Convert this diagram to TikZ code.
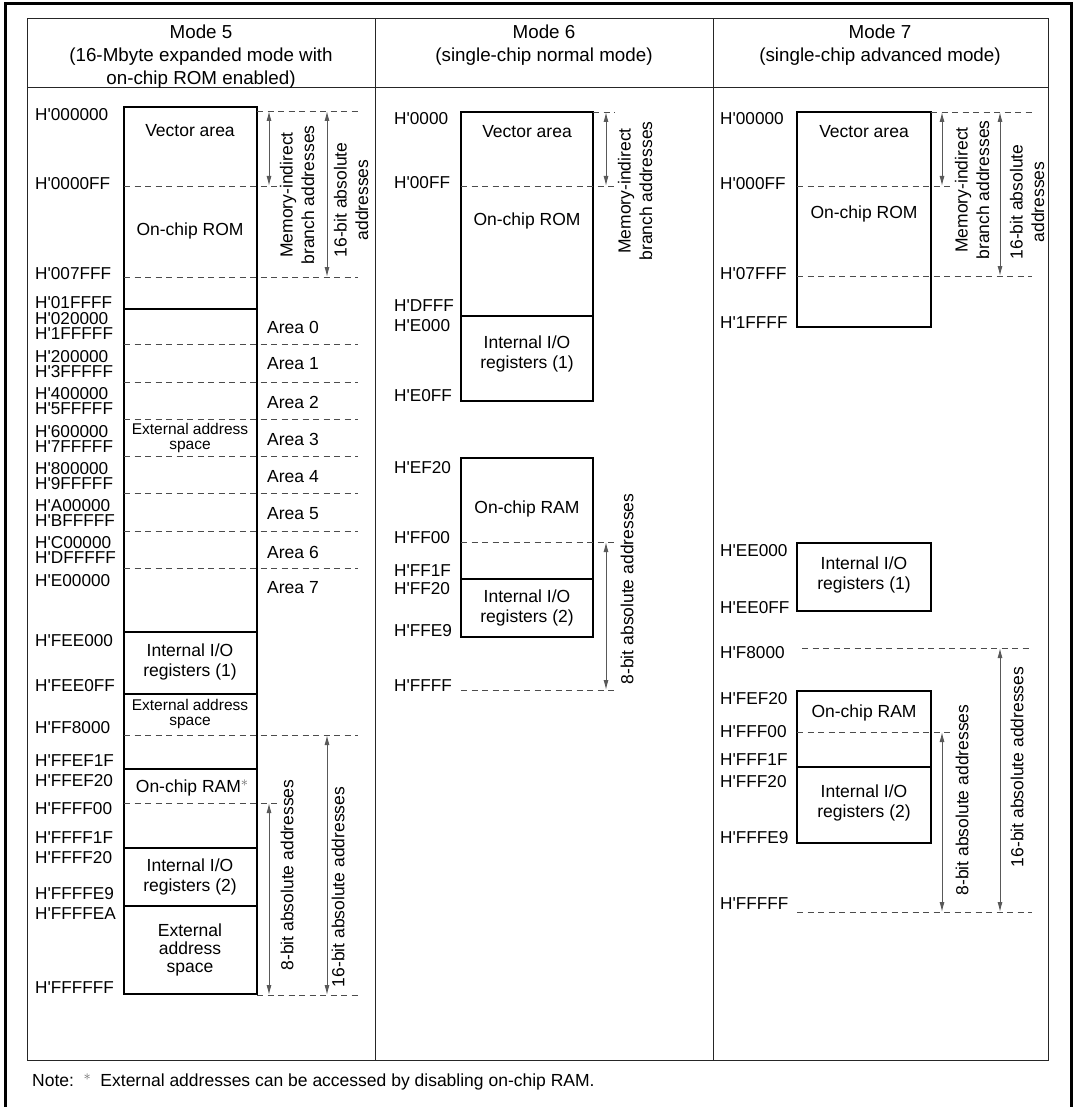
\documentclass[tikz,border=0pt]{standalone}
\usepackage{fontspec}
\setmainfont{Liberation Sans}
\usepackage{tikz}
\usetikzlibrary{arrows.meta}
\newcommand{\hx}[1]{H\textquotesingle#1}
\newcommand{\nstar}{\raisebox{6pt}{\color{black!60}\fontsize{15}{15}\selectfont$\ast$}}

\begin{document}
\begin{tikzpicture}
  [
    x=1pt, y=-1pt,
    Addr/.style={anchor=west, inner sep=0pt, text height=12.5pt, text depth=0pt, font=\fontsize{17.2}{21}\selectfont},
    Lbl/.style={align=center, inner sep=0pt, font=\fontsize{17.5}{20}\selectfont},
    Sml/.style={align=center, inner sep=0pt, font=\fontsize{15.5}{15}\selectfont},
    Head/.style={align=center, inner sep=0pt, font=\fontsize{18.8}{23}\selectfont},
    Rot/.style={rotate=90, align=center, inner sep=0pt, font=\fontsize{17.5}{21.5}\selectfont},
    Cell/.style={draw=black!85, line width=1pt},
    Mem/.style={draw=black, line width=1.1pt},
    Dash/.style={draw=black!70, dash pattern=on 6pt off 4.5pt, line width=0.9pt},
    Dim/.style={draw=black!65, line width=1pt, {Latex[length=10pt,width=5pt]}-{Latex[length=10pt,width=5pt]}}
  ]
  \useasboundingbox (0,0) rectangle (1075,1107);
  % Frame and table
  \draw[line width=3pt] (5,1107) -- (5,4) -- (1071,4) -- (1071,1107);
  \draw[Cell] (27,19) rectangle (1048,1060);
  \draw[Cell] (27,88) -- (1048,88);
  \draw[Cell] (375,19) -- (375,1060);
  \draw[Cell] (713,19) -- (713,1060);
  \node[Head] (h5) at (201,57) {Mode 5\\(16-Mbyte expanded mode with\\on-chip ROM enabled)};
  \node[Head] (h6) at (544,45) {Mode 6\\(single-chip normal mode)};
  \node[Head] (h7) at (880,45) {Mode 7\\(single-chip advanced mode)};

  % Mode 5: lines
  \draw[Mem] (124,107) rectangle (257,994);
  \draw[Mem] (124,309) -- (257,309);
  \draw[Mem] (124,632) -- (257,632);
  \draw[Mem] (124,694) -- (257,694);
  \draw[Mem] (124,769) -- (257,769);
  \draw[Mem] (124,848) -- (257,848);
  \draw[Mem] (124,906) -- (257,906);
  \draw[Dash] (257,111) -- (358,111);
  \draw[Dash] (124,186) -- (278,186);
  \draw[Dash] (124,277) -- (358,277);
  \draw[Dash] (124,344) -- (358,344);
  \draw[Dash] (124,382) -- (358,382);
  \draw[Dash] (124,419) -- (358,419);
  \draw[Dash] (124,456) -- (358,456);
  \draw[Dash] (124,493) -- (358,493);
  \draw[Dash] (124,531) -- (358,531);
  \draw[Dash] (124,568) -- (358,568);
  \draw[Dash] (124,735) -- (358,735);
  \draw[Dash] (124,803) -- (278,803);
  \draw[Dash] (257,995) -- (358,995);
  \path[Dim] (269,111) -- (269,186);
  \path[Dim] (327,111) -- (327,277);
  \path[Dim] (269,803) -- (269,995);
  \path[Dim] (327,735) -- (327,995);
  % Mode 5: addresses
  \node[Addr] (a5a) at (35,114) {\hx{000000}};
  \node[Addr] (a5b) at (35,183) {\hx{0000FF}};
  \node[Addr] (a5c) at (35,273) {\hx{007FFF}};
  \node[Addr] (a5d) at (35,302) {\hx{01FFFF}};
  \node[Addr] (a5e) at (35,318) {\hx{020000}};
  \node[Addr] (a5f) at (35,333) {\hx{1FFFFF}};
  \node[Addr] (a5g) at (35,356) {\hx{200000}};
  \node[Addr] (a5h) at (35,371) {\hx{3FFFFF}};
  \node[Addr] (a5i) at (35,393) {\hx{400000}};
  \node[Addr] (a5j) at (35,408) {\hx{5FFFFF}};
  \node[Addr] (a5k) at (35,431) {\hx{600000}};
  \node[Addr] (a5l) at (35,446) {\hx{7FFFFF}};
  \node[Addr] (a5m) at (35,468) {\hx{800000}};
  \node[Addr] (a5n) at (35,483) {\hx{9FFFFF}};
  \node[Addr] (a5o) at (35,505) {\hx{A00000}};
  \node[Addr] (a5p) at (35,520) {\hx{BFFFFF}};
  \node[Addr] (a5q) at (35,542) {\hx{C00000}};
  \node[Addr] (a5r) at (35,557) {\hx{DFFFFF}};
  \node[Addr] (a5s) at (35,580) {\hx{E00000}};
  \node[Addr] (a5t) at (35,640) {\hx{FEE000}};
  \node[Addr] (a5u) at (35,685) {\hx{FEE0FF}};
  \node[Addr] (a5v) at (35,727) {\hx{FF8000}};
  \node[Addr] (a5w) at (35,760) {\hx{FFEF1F}};
  \node[Addr] (a5x) at (35,780) {\hx{FFEF20}};
  \node[Addr] (a5y) at (35,808) {\hx{FFFF00}};
  \node[Addr] (a5z) at (35,837) {\hx{FFFF1F}};
  \node[Addr] (a5aa) at (35,857) {\hx{FFFF20}};
  \node[Addr] (a5ab) at (35,893) {\hx{FFFFE9}};
  \node[Addr] (a5ac) at (35,913) {\hx{FFFFEA}};
  \node[Addr] (a5ad) at (35,987) {\hx{FFFFFF}};
  % Mode 5: areas
  \node[Lbl] (m5vec) at (190,131) {Vector area};
  \node[Lbl] (m5rom) at (190,231) {On-chip ROM};
  \node[Sml] (m5ext1) at (190,438) {External address\\space};
  \node[Lbl] (m5io1) at (190,662) {Internal I/O\\registers (1)};
  \node[Sml] (m5ext2) at (190,714) {External address\\space};
  \node[Lbl] (m5ram) at (192,788) {On-chip RAM\nstar};
  \node[Lbl] (m5io2) at (190,877) {Internal I/O\\registers (2)};
  \node[Lbl, font=\fontsize{17.5}{18}\selectfont] (m5ext3) at (190,950) {External\\address\\space};
  \node[Lbl, anchor=west] (ar0) at (267,327) {Area 0};
  \node[Lbl, anchor=west] (ar1) at (267,364) {Area 1};
  \node[Lbl, anchor=west] (ar2) at (267,402) {Area 2};
  \node[Lbl, anchor=west] (ar3) at (267,439) {Area 3};
  \node[Lbl, anchor=west] (ar4) at (267,477) {Area 4};
  \node[Lbl, anchor=west] (ar5) at (267,514) {Area 5};
  \node[Lbl, anchor=west] (ar6) at (267,552) {Area 6};
  \node[Lbl, anchor=west] (ar7) at (267,588) {Area 7};
  \node[Rot] (m5mib) at (297,195) {Memory-indirect\\branch addresses};
  \node[Rot] (m5abs) at (351,200) {16-bit absolute\\addresses};
  \node[Rot] (m5b8) at (287,875) {8-bit absolute addresses};
  \node[Rot] (m5b16) at (338,887) {16-bit absolute addresses};

  % Mode 6: lines
  \draw[Mem] (461,112) rectangle (593,401);
  \draw[Mem] (461,316) -- (593,316);
  \draw[Mem] (461,458) rectangle (593,637);
  \draw[Mem] (461,579) -- (593,579);
  \draw[Dash] (593,112) -- (615,112);
  \draw[Dash] (461,186) -- (615,186);
  \draw[Dash] (461,542) -- (618,542);
  \draw[Dash] (461,690) -- (618,690);
  \path[Dim] (606,112) -- (606,186);
  \path[Dim] (606,542) -- (606,690);
  % Mode 6: addresses
  \node[Addr] (a6a) at (394,118) {\hx{0000}};
  \node[Addr] (a6b) at (394,182) {\hx{00FF}};
  \node[Addr] (a6c) at (394,305) {\hx{DFFF}};
  \node[Addr] (a6d) at (394,325) {\hx{E000}};
  \node[Addr] (a6e) at (394,395) {\hx{E0FF}};
  \node[Addr] (a6f) at (394,467) {\hx{EF20}};
  \node[Addr] (a6g) at (394,537) {\hx{FF00}};
  \node[Addr] (a6h) at (394,570) {\hx{FF1F}};
  \node[Addr] (a6i) at (394,588) {\hx{FF20}};
  \node[Addr] (a6j) at (394,630) {\hx{FFE9}};
  \node[Addr] (a6k) at (394,685) {\hx{FFFF}};
  % Mode 6: areas
  \node[Lbl] (m6vec) at (527,132) {Vector area};
  \node[Lbl] (m6rom) at (527,221) {On-chip ROM};
  \node[Lbl] (m6io1) at (527,354) {Internal I/O\\registers (1)};
  \node[Lbl] (m6ram) at (527,509) {On-chip RAM};
  \node[Lbl] (m6io2) at (527,608) {Internal I/O\\registers (2)};
  \node[Rot] (m6mib) at (635,191) {Memory-indirect\\branch addresses};
  \node[Rot] (m6b8) at (627,589) {8-bit absolute addresses};

  % Mode 7: lines
  \draw[Mem] (797,112) rectangle (931,327);
  \draw[Mem] (797,543) rectangle (931,611);
  \draw[Mem] (797,691) rectangle (931,843);
  \draw[Mem] (797,767) -- (931,767);
  \draw[Dash] (931,112) -- (1032,112);
  \draw[Dash] (797,186) -- (950,186);
  \draw[Dash] (797,276) -- (1032,276);
  \draw[Dash] (802,648) -- (1032,648);
  \draw[Dash] (797,732) -- (952,732);
  \draw[Dash] (797,912) -- (1032,912);
  \path[Dim] (942,112) -- (942,186);
  \path[Dim] (1000,112) -- (1000,276);
  \path[Dim] (942,732) -- (942,912);
  \path[Dim] (1000,648) -- (1000,912);
  % Mode 7: addresses
  \node[Addr] (a7a) at (720,118) {\hx{00000}};
  \node[Addr] (a7b) at (720,183) {\hx{000FF}};
  \node[Addr] (a7c) at (720,273) {\hx{07FFF}};
  \node[Addr] (a7d) at (720,322) {\hx{1FFFF}};
  \node[Addr] (a7e) at (720,550) {\hx{EE000}};
  \node[Addr] (a7f) at (720,607) {\hx{EE0FF}};
  \node[Addr] (a7g) at (720,652) {\hx{F8000}};
  \node[Addr] (a7h) at (720,698) {\hx{FEF20}};
  \node[Addr] (a7i) at (720,731) {\hx{FFF00}};
  \node[Addr] (a7j) at (720,759) {\hx{FFF1F}};
  \node[Addr] (a7k) at (720,781) {\hx{FFF20}};
  \node[Addr] (a7l) at (720,837) {\hx{FFFE9}};
  \node[Addr] (a7m) at (720,903) {\hx{FFFFF}};
  % Mode 7: areas
  \node[Lbl] (m7vec) at (864,132) {Vector area};
  \node[Lbl] (m7rom) at (864,214) {On-chip ROM};
  \node[Lbl] (m7io1) at (864,575) {Internal I/O\\registers (1)};
  \node[Lbl] (m7ram) at (864,713) {On-chip RAM};
  \node[Lbl] (m7io2) at (864,803) {Internal I/O\\registers (2)};
  \node[Rot] (m7mib) at (972,190) {Memory-indirect\\branch addresses};
  \node[Rot] (m7abs) at (1027,202) {16-bit absolute\\addresses};
  \node[Rot] (m7b8) at (962,800) {8-bit absolute addresses};
  \node[Rot] (m7b16) at (1017,767) {16-bit absolute addresses};

  % Note
  \node[Lbl, anchor=west] (note) at (32,1082) {Note:\hspace{0.55em}\nstar\hspace{0.55em}External addresses can be accessed by disabling on-chip RAM.};
\end{tikzpicture}
\end{document}
